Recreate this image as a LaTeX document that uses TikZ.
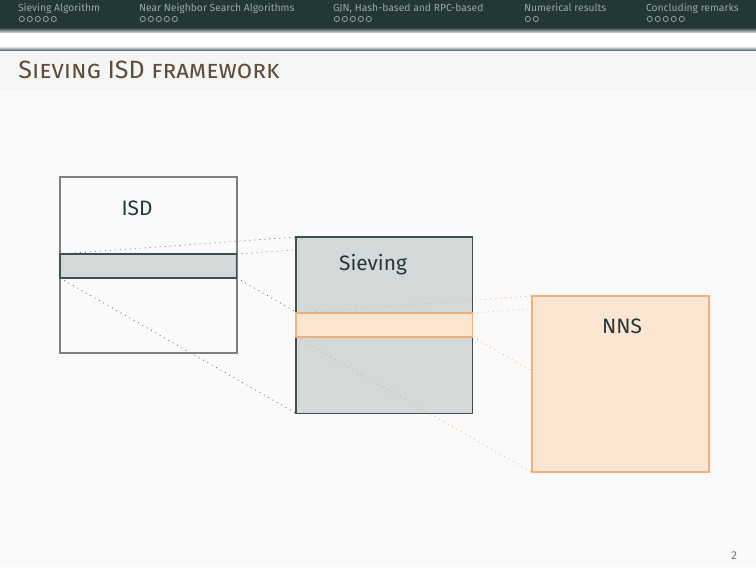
\documentclass[tikz,border=0pt]{standalone}
\usepackage{fontspec}
\setmainfont{Fira Sans}
\definecolor{pagebg}{HTML}{FAFAFA}
\definecolor{titlebg}{HTML}{F4F5F5}
\definecolor{mteal}{HTML}{23373B}
\definecolor{navtext}{HTML}{9AA5A7}
\definecolor{mbrown}{HTML}{604C38}
\definecolor{boxgray}{HTML}{808080}
\definecolor{tealfill}{HTML}{D3D8D8}
\definecolor{tealline}{HTML}{3E4E51}
\definecolor{orfill}{HTML}{FBE6D2}
\definecolor{orline}{HTML}{EFB07A}
\definecolor{ordot}{HTML}{EBA86E}
\pgfdeclarelayer{lone}
\pgfdeclarelayer{ltwo}
\pgfdeclarelayer{lthree}
\pgfdeclarelayer{lfour}
\pgfsetlayers{lone,ltwo,lthree,lfour,main}
\tikzset{
  navfont/.style={font=\fontsize{4.95}{6}\selectfont, text=navtext, inner sep=0, outer sep=0},
  navcirc/.style={draw=navtext, line width=0.35pt},
  bigbox/.style={inner sep=0, outer sep=0, minimum width=84.8pt, minimum height=84.6pt, anchor=north west},
  stripe/.style={inner sep=0, outer sep=0, minimum width=84.8pt, minimum height=11.5pt, anchor=north west},
  isdbox/.style={bigbox, draw=boxgray, line width=1pt, fill=pagebg},
  sievbox/.style={bigbox, draw=tealline, line width=0.6pt, fill=tealfill},
  nnsbox/.style={bigbox, draw=orline, line width=0.8pt, fill=orfill},
  tealstripe/.style={stripe, draw=tealline, line width=0.6pt, fill=tealfill},
  orstripe/.style={stripe, draw=orline, line width=0.6pt, fill=orfill},
  lbl/.style={font=\fontsize{10}{12}\selectfont, text=mteal, anchor=base, inner sep=0},
  graydot/.style={draw=black!60, dotted, line width=0.4pt},
  ordots/.style={draw=ordot, dotted, line width=0.4pt},
}
\begin{document}
\begin{tikzpicture}[x=0.48pt,y=-0.48pt]
\useasboundingbox (0,0) rectangle (756,567);
\begin{pgfonlayer}{lone}
  % page and header
  \fill[pagebg] (0,0) rectangle (756,567);
  \fill[mteal] (0,0) rectangle (756,29);
  \shade[top color=mteal!75, bottom color=mteal!15] (0,29) rectangle (756,33);
  \fill[white] (0,33) rectangle (756,47);
  \shade[top color=mteal!15, bottom color=mteal!85] (0,47) rectangle (756,51);
  \fill[titlebg] (0,51) rectangle (756,90);
  \node[navfont, anchor=base west] (sec1) at (18,11.5) {Sieving Algorithm};
  \node[navfont, anchor=base west] (sec2) at (139,11.5) {Near Neighbor Search Algorithms};
  \node[navfont, anchor=base west] (sec3) at (333,11.5) {GJN, Hash-based and RPC-based};
  \node[navfont, anchor=base west] (sec4) at (524,11.5) {Numerical results};
  \node[navfont, anchor=base west] (sec5) at (646,11.5) {Concluding remarks};
  \foreach \sx/\n in {18/4,139/4,333/4,524/1,646/4}{
    \foreach \i in {0,...,\n}{
      \draw[navcirc] (\sx+3.8+8*\i,19) circle[radius=1.25pt];
    }
  }
  \node[anchor=base west, inner sep=0, text=mbrown, font=\fontsize{12}{14}\selectfont\scshape] (title) at (18,79) {Sieving ISD framework};
  % ISD box
  \node[isdbox] (isd) at (60,177) {};
  \node[tealstripe] (isdstripe) at (60,254) {};
  \node[lbl] (isdlbl) at (137,215) {ISD};
\end{pgfonlayer}
\begin{pgfonlayer}{lthree}
  \node[sievbox] (siev) at (296,237) {};
  \node[orstripe] (sievstripe) at (296,313) {};
  \node[lbl] (sievlbl) at (373,270.5) {Sieving};
\end{pgfonlayer}
\begin{pgfonlayer}{ltwo}
  \draw[graydot] (isdstripe.north west) -- (siev.north west);
  \draw[graydot] (isdstripe.north east) -- (siev.north east);
  \draw[graydot] (isdstripe.south west) -- (siev.south west);
  \draw[graydot] (isdstripe.south east) -- (siev.south east);
\end{pgfonlayer}
\node[nnsbox] (nns) at (532,296) {};
\node[lbl] (nnslbl) at (622,333) {NNS};
\begin{pgfonlayer}{lfour}
  \draw[ordots] (sievstripe.north west) -- (nns.north west);
  \draw[ordots] (sievstripe.north east) -- (nns.north east);
  \draw[ordots] (sievstripe.south west) -- (nns.south west);
  \draw[ordots] (sievstripe.south east) -- (nns.south east);
\end{pgfonlayer}
\node[anchor=base east, inner sep=0, text=black!55, font=\fontsize{5.5}{6}\selectfont] (pagenum) at (737.5,559) {2};
\end{tikzpicture}
\end{document}
